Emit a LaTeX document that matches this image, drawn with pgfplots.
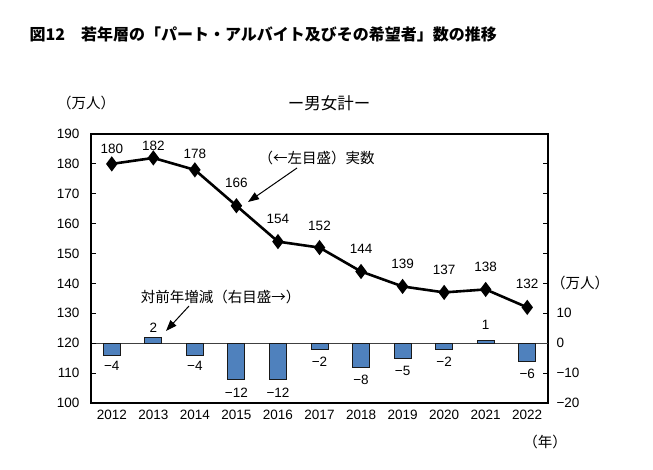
\documentclass[border=0pt]{standalone}
\usepackage{pgfplots}
\pgfplotsset{compat=1.18}
\usepackage{fontspec}
\usetikzlibrary{arrows.meta}
\setmainfont{Liberation Sans}
\newfontfamily\cjk{Noto Sans CJK JP}
\definecolor{barblue}{HTML}{4F81BD}
\newcommand{\numfont}{\fontsize{13.5}{16}\selectfont}

\begin{document}
\begin{tikzpicture}[x=1pt,y=1pt]
\path[use as bounding box] (0,0) rectangle (653,469);

% Right axis (bars, year-on-year change)
\begin{axis}[
  at={(91pt,66pt)}, anchor=south west,
  scale only axis, width=457pt, height=269pt,
  xmin=-0.5, xmax=10.5, ymin=-20, ymax=70,
  axis line style={line width=1.4pt},
  xtick={0,...,10},
  xticklabels={2012,2013,2014,2015,2016,2017,2018,2019,2020,2021,2022},
  major x tick style={draw=none},
  xticklabel style={font=\numfont, yshift=-4pt},
  ytick={-20,-10,...,70},
  yticklabels={−20,−10,0,10,,,,,,},
  ytick pos=right, yticklabel pos=right,
  tick align=inside, major tick length=5pt,
  tick style={line width=1pt, black},
  yticklabel style={font=\numfont, anchor=west, xshift=5pt},
  clip=false,
]
\draw[black!75, line width=1pt] (axis cs:-0.5,0) -- (axis cs:10.5,0);
\addplot[ybar, bar width=17pt, fill=barblue, draw=black!90, line width=0.9pt]
  table {
x y
0 -4
1 2
2 -4
3 -12
4 -12
5 -2
6 -8
7 -5
8 -2
9 1
10 -6
};
\addplot[draw=none, mark=none, nodes near coords, point meta=explicit symbolic,
  every node near coord/.append style={anchor=center, font=\numfont}]
  table[meta=lab] {
x y lab
0 -7.5 −4
1 5.3 2
2 -7.5 −4
3 -16.5 −12
4 -16.5 −12
5 -6.3 −2
6 -12.4 −8
7 -9.3 −5
8 -6.3 −2
9 6 1
10 -10.4 −6
};
\end{axis}

% Left axis (line, actual numbers)
\begin{axis}[
  at={(91pt,66pt)}, anchor=south west,
  scale only axis, width=457pt, height=269pt,
  xmin=-0.5, xmax=10.5, ymin=100, ymax=190,
  axis y line*=left, axis x line=none,
  axis line style={line width=1.4pt},
  ytick={100,110,...,190},
  tick align=inside, major tick length=5pt,
  tick style={line width=1pt, black},
  yticklabel style={font=\numfont, /pgf/number format/assume math mode=true, xshift=-8pt},
  clip=false,
]
\addplot[black, line width=2.6pt, mark=diamond*, mark size=5.5pt]
  table {
x y
0 180
1 182
2 178
3 166
4 154
5 152
6 144
7 139
8 137
9 138
10 132
};
\addplot[draw=none, mark=none, nodes near coords, point meta=explicit symbolic,
  every node near coord/.append style={anchor=center, font=\numfont}]
  table[meta=lab] {
x y lab
0 185 180
1 186 182
2 183.3 178
3 173.7 166
4 161.7 154
5 159.3 152
6 151.7 144
7 146.7 139
8 144.7 137
9 145.7 138
10 140 132
};
\end{axis}

% Texts
\node[anchor=west] at (26,435) {\cjk\bfseries\fontsize{16}{18}\selectfont 図12\quad 若年層の「パート・アルバイト及びその希望者」数の推移};
\node at (329,366) {\cjk\fontsize{16.5}{19}\selectfont ー男女計ー};
\node at (86,366) {\cjk\fontsize{14.5}{17}\selectfont （万人）};
\node at (580,186) {\cjk\fontsize{14.5}{17}\selectfont （万人）};
\node at (545,27) {\cjk\fontsize{14.5}{17}\selectfont （年）};
\node at (316.5,311) {\cjk\fontsize{14.5}{17}\selectfont （←左目盛）実数};
\node at (220.5,172) {\cjk\fontsize{14.5}{17}\selectfont 対前年増減（右目盛→）};
\draw[line width=1pt, -{Triangle[length=11pt,width=8pt]}] (297,301) -- (248,267);
\draw[line width=1pt, -{Triangle[length=11pt,width=8pt]}] (189,163) -- (166,138);
\end{tikzpicture}
\end{document}
